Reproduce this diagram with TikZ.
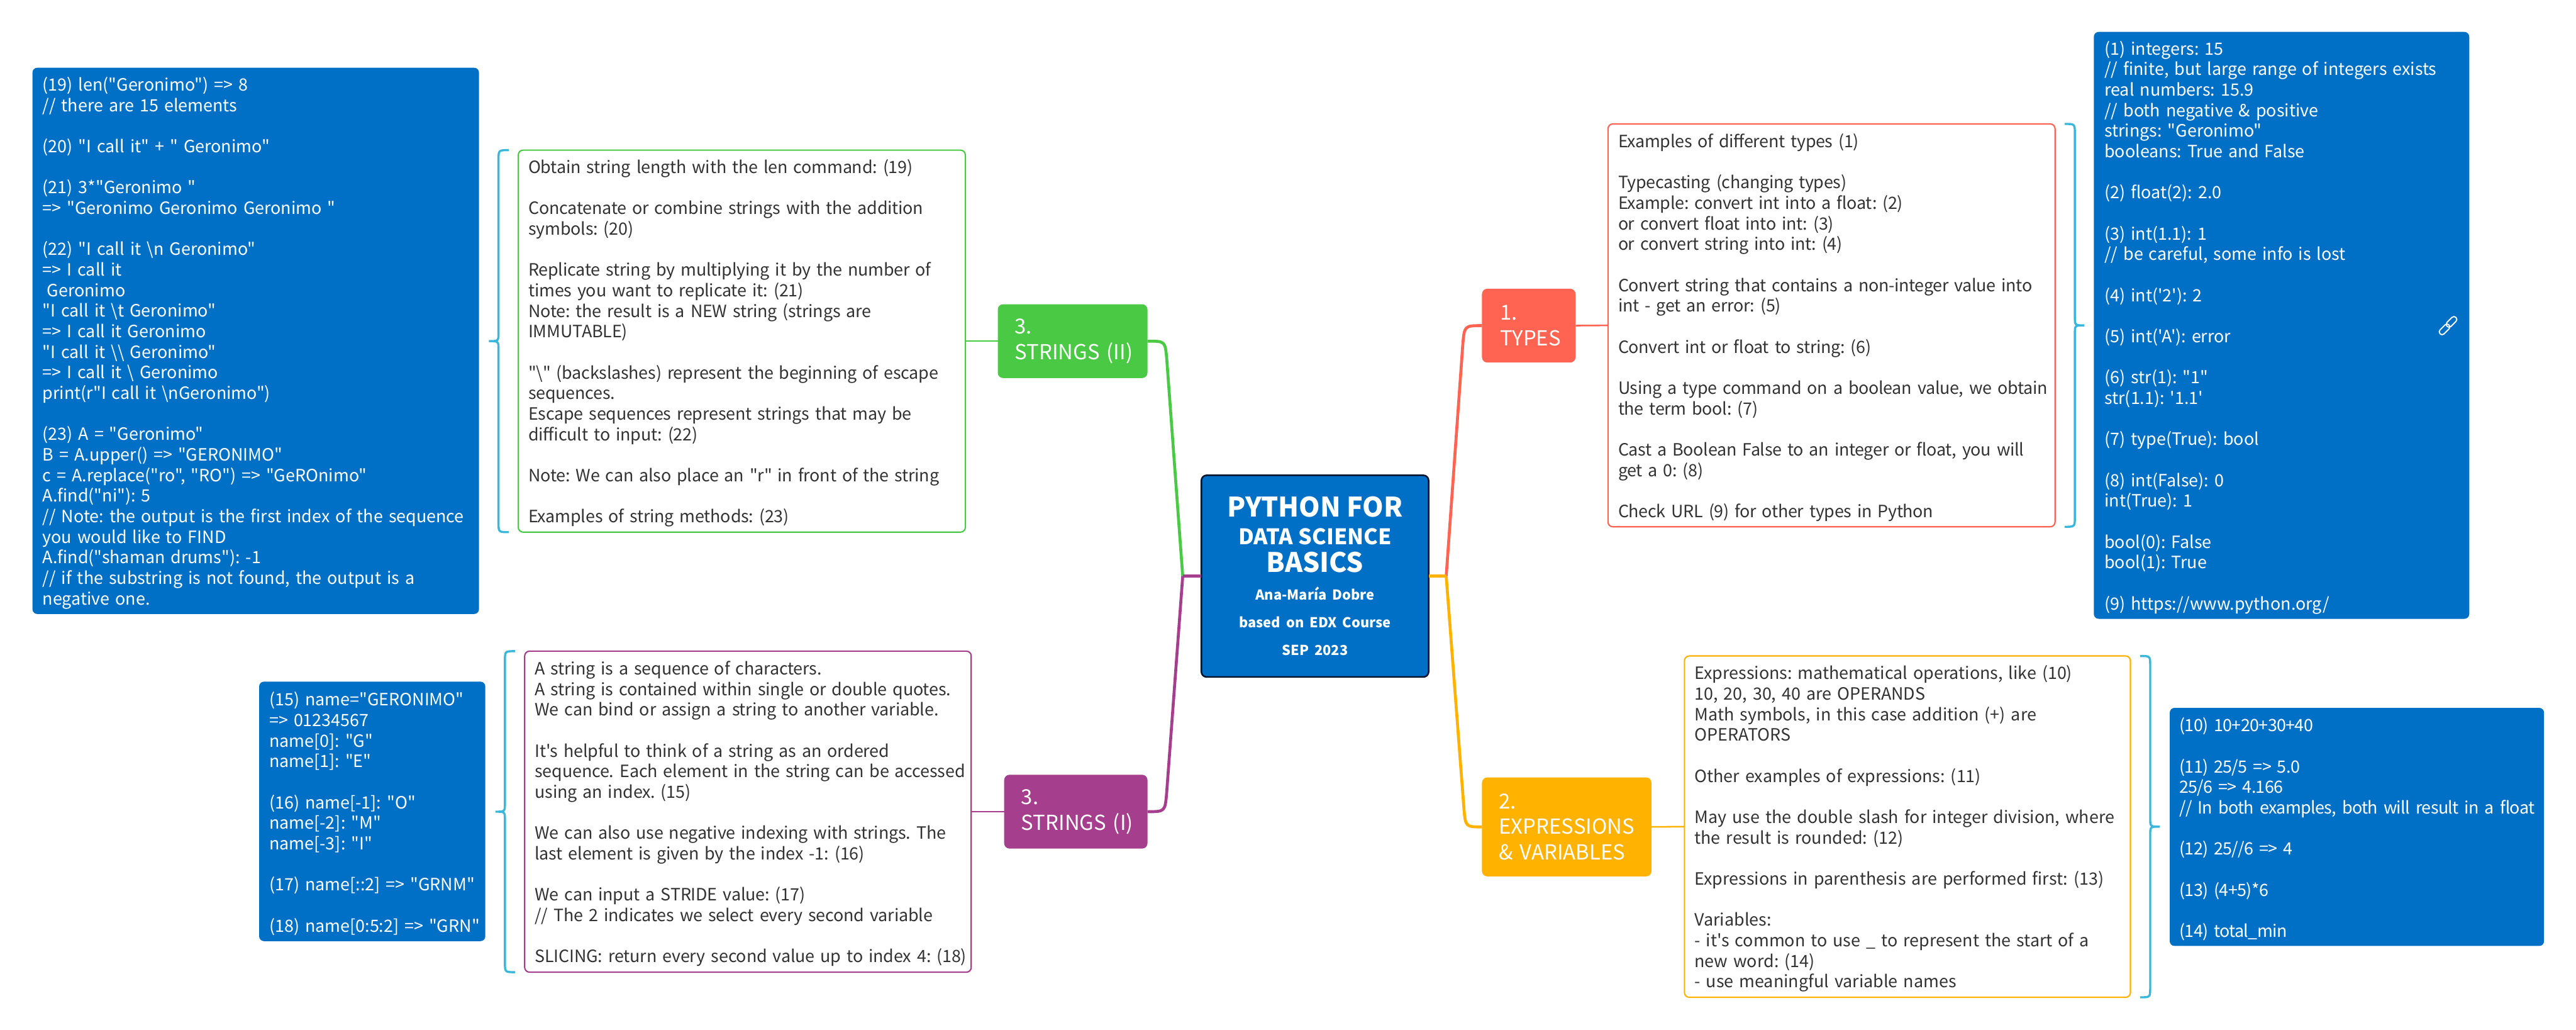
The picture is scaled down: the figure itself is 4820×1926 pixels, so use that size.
\documentclass[tikz,border=0pt]{standalone}
\usepackage{fontspec}
\usetikzlibrary{calc}
\frenchspacing
\newfontfamily\nsans{Noto Sans CJK SC}
\definecolor{cblue}{HTML}{006FC6}
\definecolor{cnavy}{HTML}{06152E}
\definecolor{cred}{HTML}{FF6352}
\definecolor{corange}{HTML}{FFB200}
\definecolor{cgreen}{HTML}{4AC944}
\definecolor{cpurple}{HTML}{A53E8C}
\definecolor{cbrace}{HTML}{3CB7DC}
\definecolor{ctext}{HTML}{333333}
\newcommand{\bl}{\\[\baselineskip]}
\newcommand{\pad}[1]{\frenchspacing\leftskip=#1\relax}
\newcommand{\tpad}[1]{\pad{#1}\rule{0pt}{0.34cm}}
\newcommand{\trk}[1]{\addfontfeature{LetterSpace=#1}}
\newcommand{\fs}[1]{\bfseries\fontsize{#1}{14.7pt}\selectfont}
\newcommand{\bs}{\textbackslash}
\newcommand{\bracefrom}[3]{%
  \draw[bracket] ($(#1.north #2)+({#3*18},0)$)
    .. controls ($(#1.north #2)+({#3*37},0)$) .. ($(#1.north #2)+({#3*37},18)$)
    -- ($(#1.#2)+({#3*37},-16)$)
    .. controls ($(#1.#2)+({#3*37},0)$) .. ($(#1.#2)+({#3*55},0)$)
    .. controls ($(#1.#2)+({#3*37},0)$) .. ($(#1.#2)+({#3*37},16)$)
    -- ($(#1.south #2)+({#3*37},-18)$)
    .. controls ($(#1.south #2)+({#3*37},0)$) .. ($(#1.south #2)+({#3*18},0)$);}
\tikzset{
  body/.style={font=\nsans\fontsize{9}{10.93pt}\selectfont, align=left, inner xsep=0pt, inner ysep=0pt, outer sep=0pt, rounded corners=0.09cm, anchor=center},
  detail/.style={body, draw=#1, line width=0.025cm, fill=white, text=ctext},
  note/.style={body, fill=cblue, text=white},
  branch/.style={font=\nsans\fontsize{11}{13.65pt}\selectfont, align=left, inner xsep=0pt, inner ysep=0pt, outer sep=0pt, rounded corners=0.1cm, fill=#1, text=white, anchor=center},
  root/.style={align=center, inner sep=0pt, outer sep=0pt, rounded corners=0.1cm, fill=cblue, draw=cnavy, line width=0.03cm, text=white, font=\nsans\fontsize{9}{14.7pt}\selectfont},
  trunk/.style={line width=0.055cm, draw=#1},
  twig/.style={line width=0.03cm, draw=#1},
  bracket/.style={line width=0.04cm, draw=cbrace},
  chainlink/.style={draw=white, line width=0.022cm, rounded corners=0.05cm, minimum width=0.235cm, minimum height=0.105cm, inner sep=0pt, outer sep=0pt, rotate=45}
}
\begin{document}
\begin{tikzpicture}[x=0.01cm,y=-0.01cm]
\useasboundingbox (0,0) rectangle (4820,1926);
\fill[white] (0,0) rectangle (4820,1926);

% root
\node[root, text width=4.25cm, minimum height=3.77cm] (root) at (2460.5,1077.5)
  {{\fs{14.3}PYTHON FOR}\\{\fs{11.4}DATA SCIENCE}\\{\fs{14.3}BASICS}\\{\fs{7.3}Ana-María Dobre}\\{\fs{7.3}based on EDX Course}\\{\fs{7.3}SEP 2023}};

% branches
\node[branch=cred, text width=1.75cm, minimum height=1.38cm] (types) at (2860.5,609)
  {\pad{0.34cm}1.\\TYPES\par};
\node[branch=corange, text width=3.17cm, minimum height=1.85cm] (expr) at (2931.5,1546.5)
  {\pad{0.32cm}2.\\EXPRESSIONS\\\&\ VARIABLES\par};
\node[branch=cgreen, text width=2.80cm, minimum height=1.38cm] (strb) at (2007,638)
  {\pad{0.32cm}3.\\STRINGS (II)\par};
\node[branch=cpurple, text width=2.68cm, minimum height=1.38cm] (stra) at (2013,1518)
  {\pad{0.32cm}3.\\STRINGS (I)\par};

% detail boxes
\node[detail=cred, text width=8.36cm, minimum height=7.53cm] (dtypes) at (3427,608.5)
  {\tpad{0.19cm}\trk{-1.2}Examples of different types (1)\bl
Typecasting (changing types)\\
Example: convert int into a float: (2)\\
or convert float into int: (3)\\
or convert string into int: (4)\bl
Convert string that contains a non-integer value into\\
int - get an error: (5)\bl
Convert int or float to string: (6)\bl
Using a type command on a boolean value, we obtain\\
the term bool: (7)\bl
Cast a Boolean False to an integer or float, you will\\
get a 0: (8)\bl
Check URL (9) for other types in Python\par};

\node[detail=corange, text width=8.34cm, minimum height=6.38cm] (dexpr) at (3569,1546)
  {\tpad{0.19cm}Expressions: mathematical operations, like (10)\\
10, 20, 30, 40 are OPERANDS\\
Math symbols, in this case addition (+) are\\
OPERATORS\bl
Other examples of expressions: (11)\bl
May use the double slash for integer division, where\\
the result is rounded: (12)\bl
Expressions in parenthesis are performed first: (13)\bl
Variables:\\
- it's common to use \_ to represent the start of a\\
new word: (14)\\
- use meaningful variable names\par};

\node[detail=cgreen, text width=8.36cm, minimum height=7.14cm] (dstrb) at (1388,638)
  {\tpad{0.19cm}\trk{-0.8}Obtain string length with the len command: (19)\bl
Concatenate or combine strings with the addition\\
symbols: (20)\bl
Replicate string by multiplying it by the number of\\
times you want to replicate it: (21)\\
Note: the result is a NEW string (strings are\\
IMMUTABLE)\bl
"\bs" (backslashes) represent the beginning of escape\\
sequences.\\
Escape sequences represent strings that may be\\
difficult to input: (22)\bl
Note: We can also place an "r" in front of the string\bl
Examples of string methods: (23)\par};

\node[detail=cpurple, text width=8.35cm, minimum height=6.00cm] (dstra) at (1399.5,1518)
  {\tpad{0.19cm}\trk{-0.6}A string is a sequence of characters.\\
A string is contained within single or double quotes.\\
We can bind or assign a string to another variable.\bl
It's helpful to think of a string as an ordered\\
sequence. Each element in the string can be accessed\\
using an index. (15)\bl
We can also use negative indexing with strings. The\\
last element is given by the index -1: (16)\bl
We can input a STRIDE value: (17)\\
// The 2 indicates we select every second variable\bl
SLICING: return every second value up to index 4: (18)\par};

% notes
\node[note, text width=7.02cm, minimum height=10.97cm] (ntypes) at (4269,608.5)
  {\tpad{0.20cm}(1) integers: 15\\
// finite, but large range of integers exists\\
real numbers: 15.9\\
// both negative \& positive\\
strings: "Geronimo"\\
booleans: True and False\bl
(2) float(2): 2.0\bl
(3) int(1.1): 1\\
// be careful, some info is lost\bl
(4) int('2'): 2\bl
(5) int('A'): error\bl
(6) str(1): "1"\\
str(1.1): '1.1'\bl
(7) type(True): bool\bl
(8) int(False): 0\\
int(True): 1\bl
bool(0): False\\
bool(1): True\bl
(9) https://www.python.org/\par};

\node[note, text width=7.00cm, minimum height=4.45cm] (nexpr) at (4410,1546.5)
  {\tpad{0.18cm}\trk{-2.4}(10) 10+20+30+40\bl
(11) 25/5 => 5.0\\
25/6 => 4.166\\
// In both examples, both will result in a float\bl
(12) 25//6 => 4\bl
(13) (4+5)*6\bl
(14) total\_min\par};

\node[note, text width=8.35cm, minimum height=10.21cm] (nstrb) at (478.5,637.5)
  {\tpad{0.19cm}(19) len("Geronimo") => 8\\
// there are 15 elements\bl
(20) "I call it" + " Geronimo"\bl
(21) 3*"Geronimo "\\
=> "Geronimo Geronimo Geronimo "\bl
(22) "I call it \bs n Geronimo"\\
=> I call it\\
\hspace*{0.08cm}Geronimo\\
"I call it \bs t Geronimo"\\
=> I call it Geronimo\\
"I call it \bs\bs\ Geronimo"\\
=> I call it \bs\ Geronimo\\
print(r"I call it \bs nGeronimo")\bl
(23) A = "Geronimo"\\
B = A.upper() => "GERONIMO"\\
c = A.replace("ro", "RO") => "GeROnimo"\\
A.find("ni"): 5\\
// Note: the output is the first index of the sequence\\
you would like to FIND\\
A.find("shaman drums"): -1\\
// if the substring is not found, the output is a\\
negative one.\par};

\node[note, text width=4.23cm, minimum height=4.85cm] (nstra) at (696.5,1517.5)
  {\tpad{0.19cm}(15) name="GERONIMO"\\
=> 01234567\\
name[0]: "G"\\
name[1]: "E"\bl
(16) name[-1]: "O"\\
name[-2]: "M"\\
name[-3]: "I"\bl
(17) name[::2] => "GRNM"\bl
(18) name[0:5:2] => "GRN"\par};

% link icon on the note
\node[chainlink] (linka) at (4574,616) {};
\node[chainlink] (linkb) at (4587,602) {};

% connectors
\coordinate (jright) at (2706,1077.5);
\coordinate (jleft) at (2213,1077.5);
\coordinate (bendtypes) at (2737,645);
\coordinate (ctltypes) at (2740,609);
\coordinate (bendexpr) at (2739,1510);
\coordinate (ctlexpr) at (2742,1546.5);
\coordinate (bendstrb) at (2183,670);
\coordinate (ctlstrb) at (2180,638);
\coordinate (bendstra) at (2183,1482);
\coordinate (ctlstra) at (2180,1518);

\draw[trunk=cred] (jright) -- (bendtypes) .. controls (ctltypes) .. (types.west);
\draw[trunk=corange] (jright) -- (bendexpr) .. controls (ctlexpr) .. (expr.west);
\draw[trunk=corange] (root.east) -- (jright);
\draw[trunk=cgreen] (jleft) -- (bendstrb) .. controls (ctlstrb) .. (strb.east);
\draw[trunk=cpurple] (jleft) -- (bendstra) .. controls (ctlstra) .. (stra.east);
\draw[trunk=cpurple] (root.west) -- (jleft);
\draw[twig=cred] (types.east) -- (dtypes.west);
\draw[twig=corange] (expr.east) -- (dexpr.west);
\draw[twig=cgreen] (strb.west) -- (dstrb.east);
\draw[twig=cpurple] (stra.west) -- (dstra.east);

% braces
\bracefrom{dtypes}{east}{1}
\bracefrom{dexpr}{east}{1}
\bracefrom{dstrb}{west}{-1}
\bracefrom{dstra}{west}{-1}
\end{tikzpicture}
\end{document}
